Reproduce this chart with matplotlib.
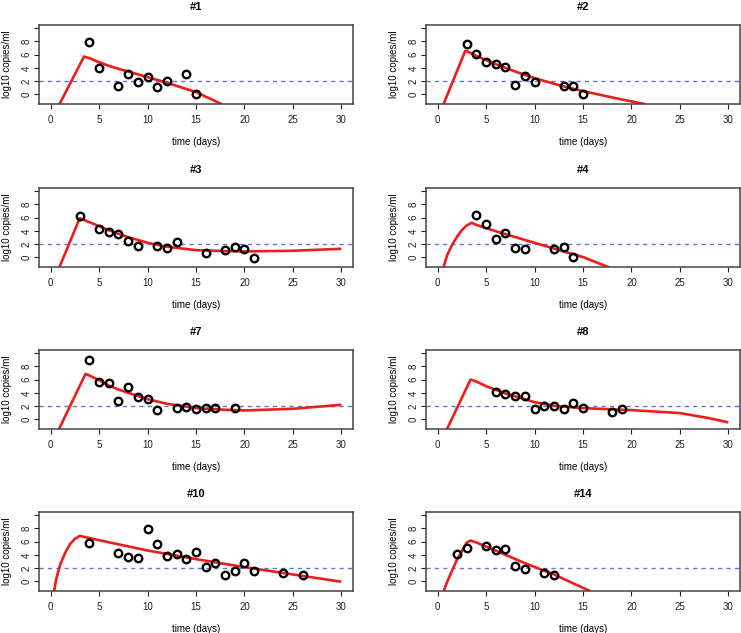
import matplotlib
matplotlib.use("Agg")
import matplotlib.pyplot as plt

# ---------------- data ----------------
titles = ["#1", "#2", "#3", "#4", "#7", "#8", "#10", "#14"]

p1_days = [4, 5, 7, 8, 9, 10, 11, 12, 14, 15]
p1_obs = [7.85, 3.95, 1.2, 3.1, 1.8, 2.6, 1.1, 2.0, 3.1, 0.0]
p1_fit_days = [0.9, 3.45, 4, 5, 6, 7, 8, 10, 12, 15, 17.7]
p1_fit = [-1.5, 5.7, 5.45, 4.85, 4.3, 3.85, 3.45, 2.6, 1.75, 0.35, -1.5]

p2_days = [3, 4, 5, 6, 7, 8, 9, 10, 13, 14, 15]
p2_obs = [7.65, 6.1, 4.85, 4.5, 4.15, 1.4, 2.7, 1.9, 1.2, 1.2, 0.0]
p2_fit_days = [0.6, 2.85, 3, 4, 5, 6, 7, 8, 10, 13, 15, 18, 21.5]
p2_fit = [-1.5, 6.55, 6.5, 5.8, 5.15, 4.55, 4.0, 3.45, 2.45, 1.2, 0.5, -0.45, -1.5]

p3_days = [3, 5, 6, 7, 8, 9, 11, 12, 13, 16, 18, 19, 20, 21]
p3_obs = [6.25, 4.3, 3.8, 3.5, 2.45, 1.75, 1.65, 1.45, 2.25, 0.6, 1.05, 1.6, 1.3, -0.05]
p3_fit_days = [0.9, 3.0, 4, 5, 6, 7, 8, 10, 12, 15, 18, 20, 25, 30]
p3_fit = [-1.5, 5.9, 5.3, 4.7, 4.1, 3.55, 3.05, 2.2, 1.6, 1.1, 0.95, 0.9, 1.0, 1.3]

p4_days = [4, 5, 6, 7, 8, 9, 12, 13, 14]
p4_obs = [6.4, 5.0, 2.8, 3.6, 1.4, 1.3, 1.3, 1.6, 0.0]
p4_fit_days = [0.6, 1.0, 1.5, 2.0, 2.5, 3.0, 3.5, 4, 5, 7, 10, 13, 15, 17.7]
p4_fit = [-1.5, 0.4, 1.9, 3.1, 4.1, 4.8, 5.2, 4.9, 4.4, 3.5, 2.2, 0.9, 0.05, -1.5]

p7_days = [4, 5, 6, 7, 8, 9, 10, 11, 13, 14, 15, 16, 17, 19]
p7_obs = [8.9, 5.65, 5.5, 2.75, 4.95, 3.3, 3.05, 1.35, 1.65, 1.8, 1.6, 1.65, 1.65, 1.75]
p7_fit_days = [0.85, 3.6, 4, 5, 6, 7, 8, 10, 12, 15, 18, 20, 25, 30]
p7_fit = [-1.5, 6.85, 6.6, 5.9, 5.1, 4.5, 4.0, 3.05, 2.35, 1.7, 1.45, 1.35, 1.6, 2.2]

p8_days = [6, 7, 8, 9, 10, 11, 12, 13, 14, 15, 18, 19]
p8_obs = [4.15, 3.75, 3.55, 3.5, 1.6, 2.05, 1.95, 1.6, 2.45, 1.7, 1.15, 1.55]
p8_fit_days = [0.95, 3.4, 4, 5, 7, 10, 12, 15, 20, 25, 28, 30]
p8_fit = [-1.5, 6.0, 5.7, 5.0, 3.9, 2.6, 2.05, 1.7, 1.4, 0.95, 0.2, -0.45]

p10_days = [4, 7, 8, 9, 10, 11, 12, 13, 14, 15, 16, 17, 18, 19, 20, 21, 24, 26]
p10_obs = [5.85, 4.2, 3.6, 3.5, 7.85, 5.6, 3.75, 4.1, 3.3, 4.4, 2.1, 2.75, 0.95, 1.5, 2.75, 1.5, 1.2, 1.0]
p10_fit_days = [0.35, 0.6, 1.0, 1.5, 2.0, 2.5, 3.0, 5, 10, 15, 20, 25, 30]
p10_fit = [-1.5, 0.5, 2.6, 4.3, 5.6, 6.4, 6.85, 6.2, 4.65, 3.35, 2.15, 1.05, -0.05]

p14_days = [2, 3, 5, 6, 7, 8, 9, 11, 12]
p14_obs = [4.05, 5.05, 5.35, 4.75, 4.95, 2.35, 1.85, 1.25, 0.9]
p14_fit_days = [0.6, 1.0, 2.0, 3.0, 3.4, 4, 5, 7, 9, 12, 15.8]
p14_fit = [-1.5, 0.0, 3.3, 5.85, 6.15, 5.85, 5.25, 4.0, 2.75, 1.05, -1.5]

threshold = 2
x_ticks = [0, 5, 10, 15, 20, 25, 30]
y_ticks = [0, 2, 4, 6, 8, 10]
y_tick_labels = ["0", "2", "4", "6", "8", ""]

obs_days = [p1_days, p2_days, p3_days, p4_days, p7_days, p8_days, p10_days, p14_days]
obs_vals = [p1_obs, p2_obs, p3_obs, p4_obs, p7_obs, p8_obs, p10_obs, p14_obs]
fit_days = [p1_fit_days, p2_fit_days, p3_fit_days, p4_fit_days, p7_fit_days, p8_fit_days, p10_fit_days, p14_fit_days]
fit_vals = [p1_fit, p2_fit, p3_fit, p4_fit, p7_fit, p8_fit, p10_fit, p14_fit]

# ---------------- layout ----------------
plt.rcParams['font.family'] = ['Liberation Sans', 'DejaVu Sans']
W, H = 741, 633
fig = plt.figure(figsize=(W / 100, H / 100), dpi=100)

col_left = [39, 426]
box_w = 314
row_top = [25, 188, 350, 512]
box_h = 79

for i in range(8):
    r, c = divmod(i, 2)
    x0 = col_left[c]
    y0 = row_top[r]
    ax = fig.add_axes([x0 / W, 1 - (y0 + box_h) / H, box_w / W, box_h / H])
    ax.set_xlim(-1.2, 31.2)
    ax.set_ylim(-1.44, 10.44)
    ax.axhline(threshold, color="#5a78d8", lw=1.0, ls=(0, (3, 3)), zorder=1)
    ax.plot(fit_days[i], fit_vals[i], color="#f01c1c", lw=1.9, zorder=2,
            solid_joinstyle="round", solid_capstyle="butt")
    ax.plot(obs_days[i], obs_vals[i], ls="none", marker="o", ms=5.4,
            mfc="none", mec="black", mew=1.7, zorder=3)
    ax.set_xticks(x_ticks)
    ax.set_yticks(y_ticks)
    ax.set_yticklabels(y_tick_labels, rotation=90, va="center")
    ax.tick_params(axis="both", length=3.4, width=0.8, labelsize=7, colors="#222222", pad=2)
    ax.tick_params(axis="x", pad=4.5)
    for s in ax.spines.values():
        s.set_linewidth(1.1)
        s.set_color("#444444")
    ax.set_title(titles[i], fontsize=8, fontweight="bold", pad=10.5)
    ax.set_xlabel("time (days)", fontsize=7, labelpad=9)
    ax.set_ylabel("log10 copies/ml", fontsize=7, labelpad=7)

fig.savefig("out.png", dpi=100)
